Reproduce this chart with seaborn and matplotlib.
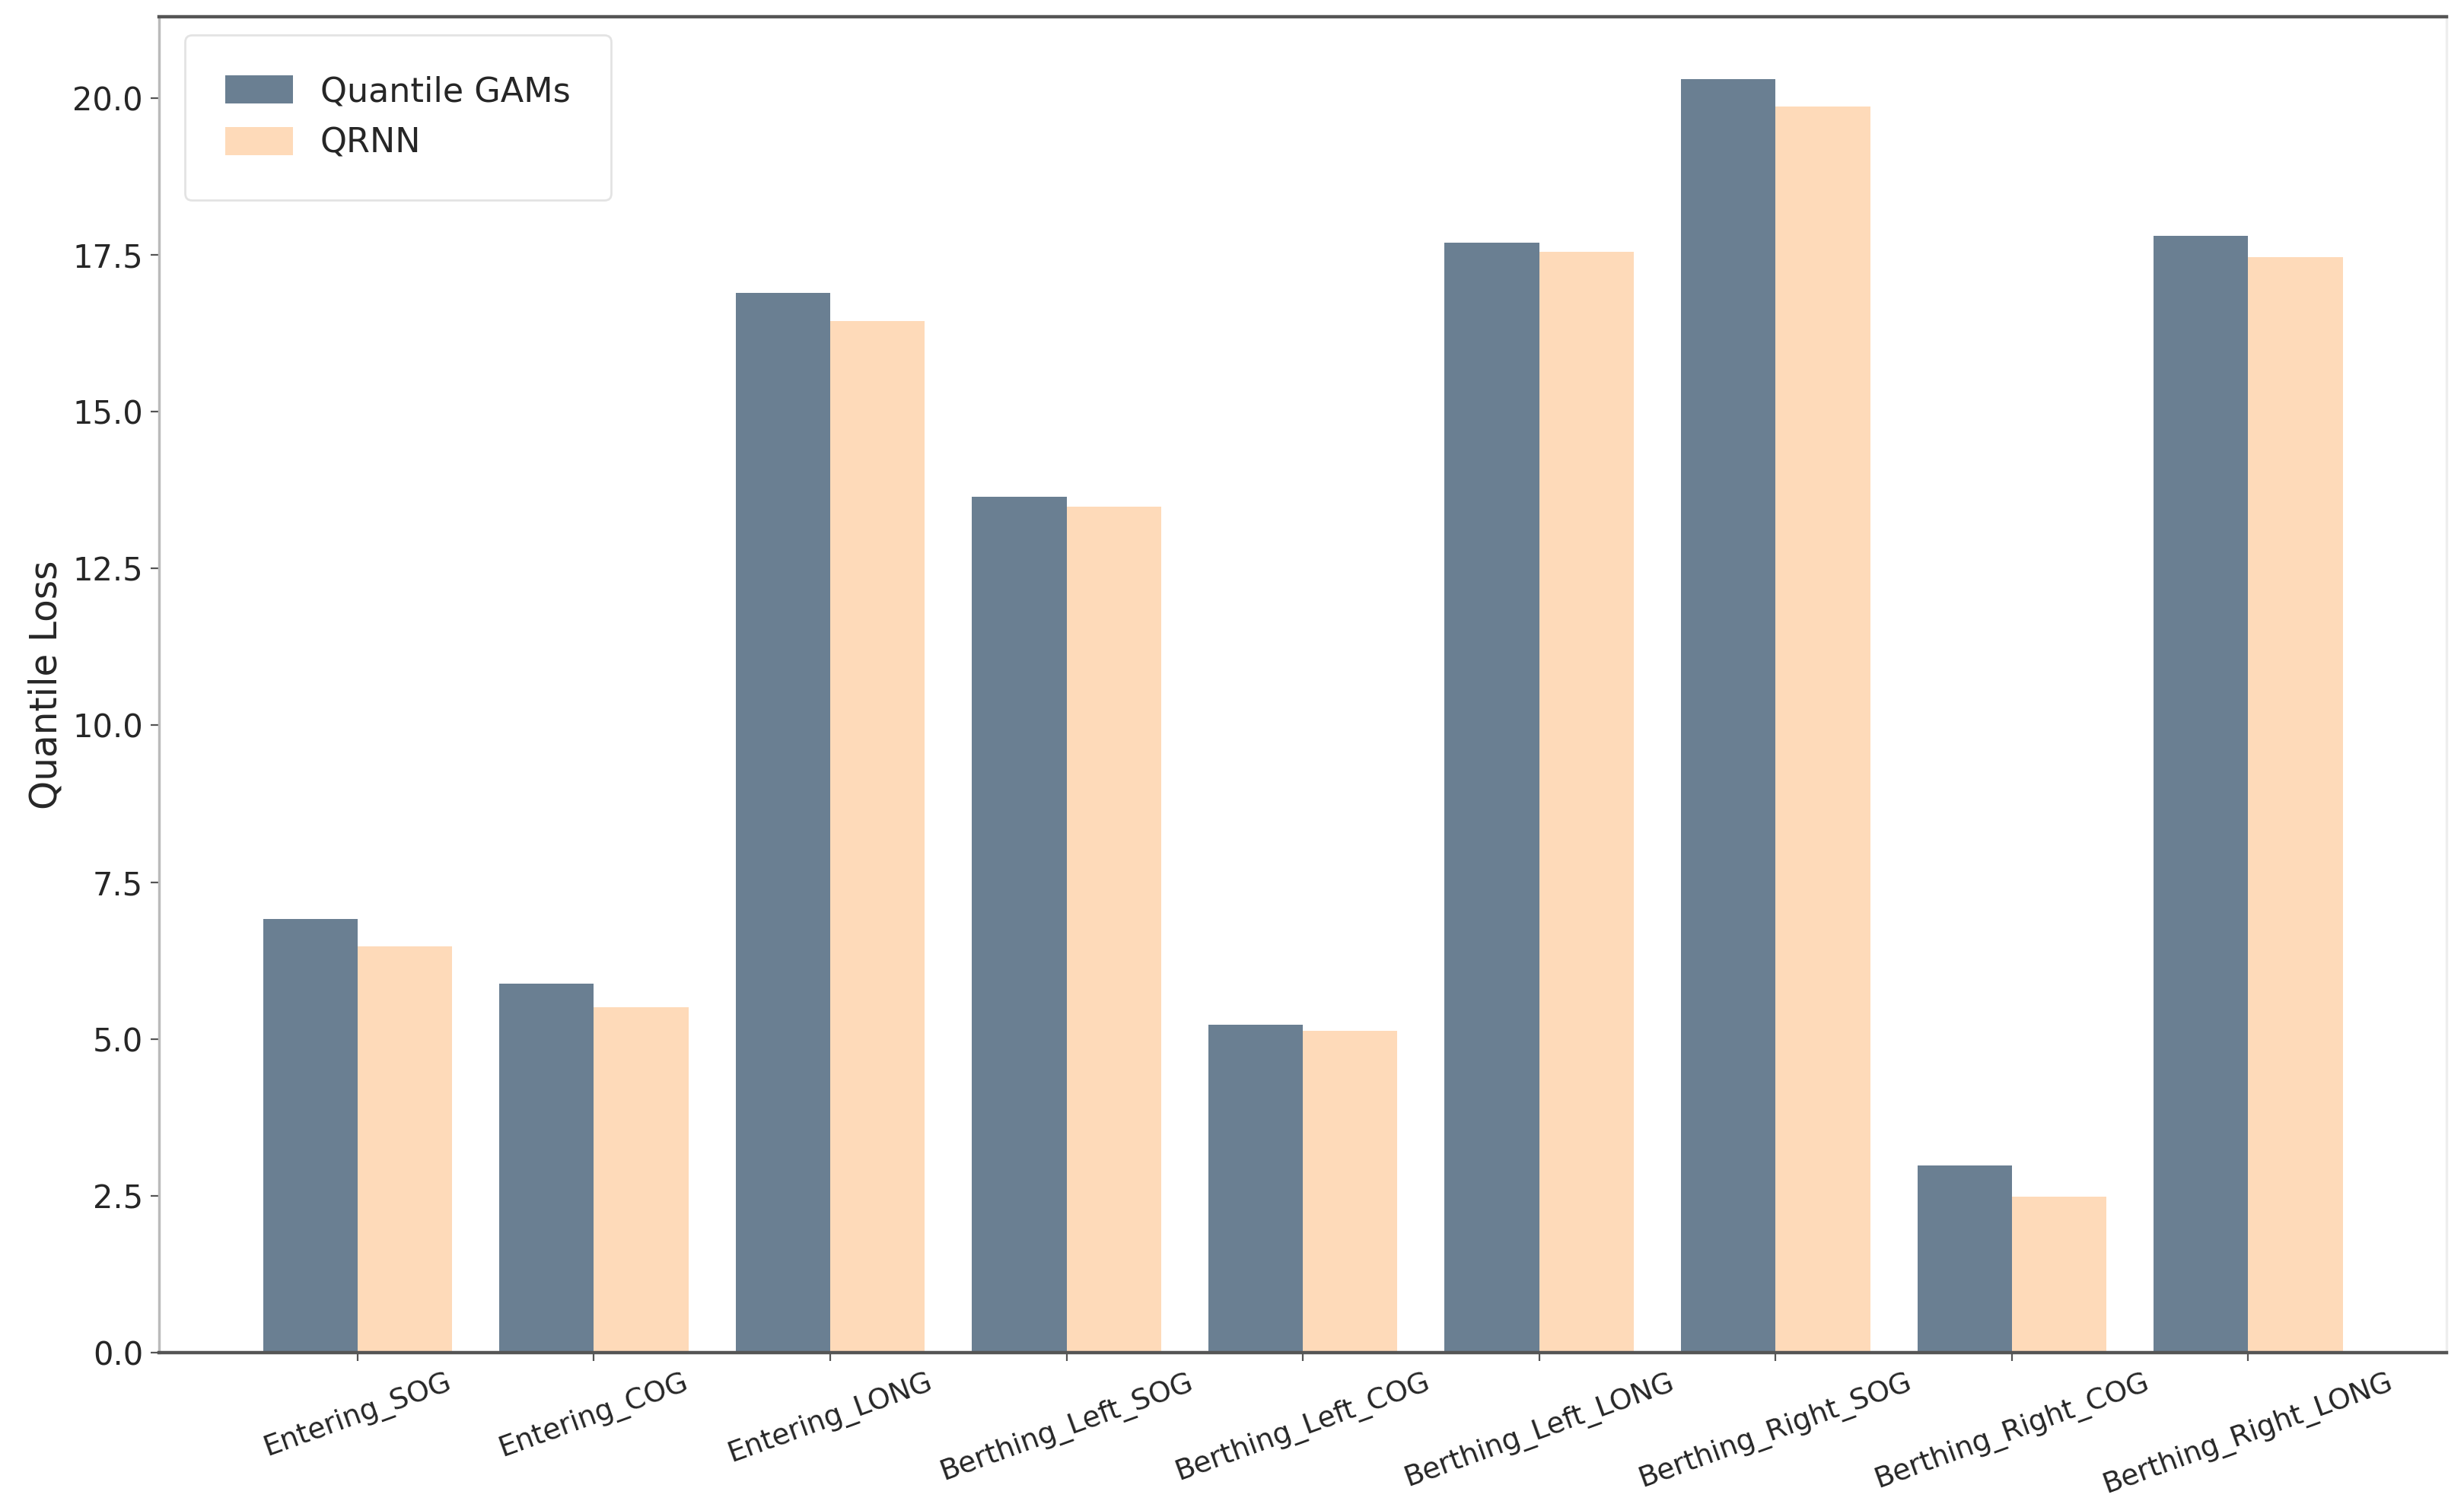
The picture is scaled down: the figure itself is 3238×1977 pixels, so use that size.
import pandas as pd
import seaborn as sns
import matplotlib.pyplot as plt


categories = [
    "Entering_SOG", "Entering_COG", "Entering_LONG",
    "Berthing_Left_SOG", "Berthing_Left_COG", "Berthing_Left_LONG",
    "Berthing_Right_SOG", "Berthing_Right_COG", "Berthing_Right_LONG",
]
gam_loss = [6.91, 5.88, 16.90, 13.64, 5.23, 17.70, 20.30, 2.98, 17.80]
qrnn_loss = [6.48, 5.51, 16.45, 13.49, 5.13, 17.55, 19.87, 2.48, 17.47]
models = ["Quantile GAMs", "QRNN"]
colors = ["#6a7f92", "#fedab9"]

sns.set_theme(style="white")
plt.rcParams["font.family"] = ["DejaVu Sans"]

df = pd.DataFrame({
    "task": categories * 2,
    "loss": gam_loss + qrnn_loss,
    "model": [models[0]] * len(categories) + [models[1]] * len(categories),
})

fig, ax = plt.subplots(figsize=(16.19, 9.885), dpi=200)
fig.subplots_adjust(left=0.0645, right=0.993, top=0.989, bottom=0.1007)

sns.barplot(data=df, x="task", y="loss", hue="model", palette=colors,
            width=0.8, linewidth=0, saturation=1, ax=ax)

n = len(categories)
ax.set_xlim(-0.84, n - 1 + 0.84)
ax.set_ylim(0, 21.3)
ax.set_yticks([0, 2.5, 5, 7.5, 10, 12.5, 15, 17.5, 20])
ax.set_yticklabels([f"{v:.1f}" for v in ax.get_yticks()], fontsize=15)
ax.set_xticks(range(n))
ax.set_xticklabels(categories, rotation=20, ha="center", fontsize=13.5)
ax.tick_params(axis="both", which="major", length=4, width=0.8,
               bottom=True, left=True, color="#555555")
ax.set_xlabel("")
ax.set_ylabel("Quantile Loss", fontsize=17.5)

for side in ["top", "bottom"]:
    ax.spines[side].set_color("#555555")
    ax.spines[side].set_linewidth(1.6)
ax.spines["left"].set_color("#bbbbbb")
ax.spines["right"].set_color("#eeeeee")

leg = ax.legend(loc="upper left", fontsize=16, frameon=True,
                borderpad=1.2, handlelength=2.0, handleheight=0.9,
                labelspacing=0.55, bbox_to_anchor=(0.004, 0.999))
leg.get_frame().set_edgecolor("#dddddd")
leg.get_frame().set_linewidth(1.0)

plt.savefig("out.png", dpi=200)
